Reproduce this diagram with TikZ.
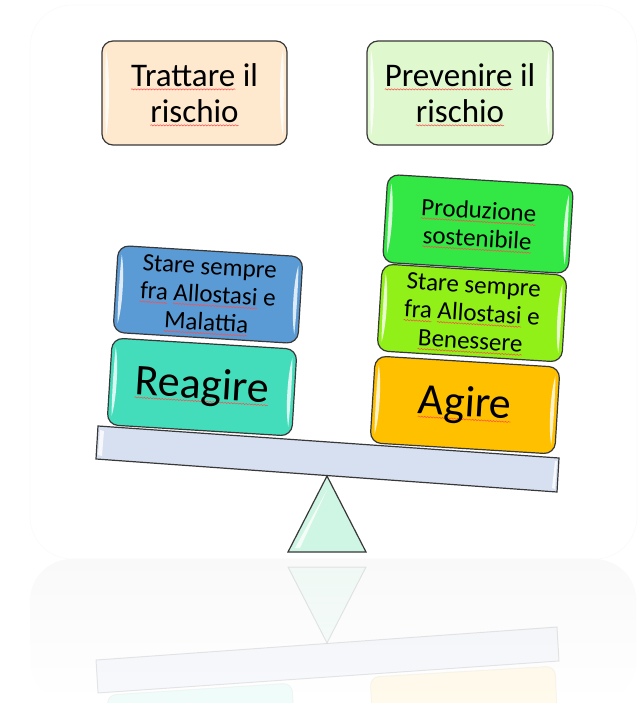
\documentclass[tikz,border=0pt]{standalone}
\usepackage{fontspec}
\setmainfont{Carlito}
\usetikzlibrary{decorations.pathmorphing,fadings}
\definecolor{peach}{HTML}{FEE8CE}
\definecolor{palegreen}{HTML}{E0F8CE}
\definecolor{vivid}{HTML}{33E845}
\definecolor{lime}{HTML}{90F018}
\definecolor{amber}{HTML}{FFC000}
\definecolor{steel}{HTML}{5B9BD5}
\definecolor{teal}{HTML}{44DDBB}
\definecolor{beamblue}{HTML}{D6E0F0}
\definecolor{mint}{HTML}{CFF5E5}
\definecolor{edge}{HTML}{383838}
\tikzset{
  gbox/.style={draw=edge,line width=1.2pt,rounded corners=11pt,inner sep=0pt,align=center,transform shape,text=black},
  gloss/.style={fill=white,fill opacity=.8,draw=none},
  panel/.style={draw=black!2,fill=white,rounded corners=42pt,line width=.6pt},
  squiggle/.style={sharp corners,draw=red!70!white,line width=.5pt,decorate,decoration={snake,amplitude=.6pt,segment length=3pt}},
}
\newsavebox\sqbox
\newlength\sqlen
\newcommand\sq[1]{\leavevmode\sbox\sqbox{#1}\setlength\sqlen{\wd\sqbox}\hbox to 0pt{\tikz[overlay]\draw[squiggle] (0pt,-3pt) -- (\sqlen,-3pt);\hss}\usebox\sqbox}
% name, x, y, w, h, angle, fill, fontsize, text
\newcommand\gb[9]{%
  \begin{scope}[shift={(#2,#3)},rotate=#6,x=1pt,y=1pt]
    \node[gbox,fill=#7,minimum width=#4pt,minimum height=#5pt,font=\fontsize{#8}{\numexpr#8*11/10\relax}\selectfont] (#1) at (0,0) {#9};
    \path[gloss] ({-#4/2+4},{#5/2-9}) .. controls ({-#4/2+8},{#5/2-25}) and ({-#4/2+8},{-#5/2+25}) .. ({-#4/2+4},{-#5/2+9}) .. controls ({-#4/2+3},{-#5/2+25}) and ({-#4/2+3},{#5/2-25}) .. cycle;
    \path[gloss] ({#4/2-4},{#5/2-9}) .. controls ({#4/2-8},{#5/2-25}) and ({#4/2-8},{-#5/2+25}) .. ({#4/2-4},{-#5/2+9}) .. controls ({#4/2-3},{-#5/2+25}) and ({#4/2-3},{#5/2-25}) .. cycle;
  \end{scope}}
\begin{document}
\begin{tikzpicture}[x=1pt,y=-1pt]
\useasboundingbox (0,0) rectangle (641,703);
% panels
\path[panel] (30,5) rectangle (637,559);
\fill[black!2.5,rounded corners=42pt,path fading=south] (30,559) rectangle (637,703);
% reflection
\begin{scope}
  \clip (0,0) rectangle (641,703);
  \begin{scope}[opacity=.08]
    \draw[edge!50,fill=amber,rounded corners=9pt,line width=1pt] (370,677) -- (555,666) -- (559,752) -- (375,762) -- cycle;
    \draw[edge!50,fill=teal,rounded corners=9pt,line width=1pt] (107,695) -- (292,683) -- (297,770) -- (112,781) -- cycle;
  \end{scope}
  \begin{scope}[opacity=.2]
    \draw[edge!60,fill=beamblue,line width=1pt] (96,660) -- (557,627) -- (559,661) -- (98,693) -- cycle;
    \draw[edge!60,fill=mint,line width=1pt] (288,567) -- (366,567) -- (327,643) -- cycle;
  \end{scope}
\end{scope}
% fulcrum and beam
\draw[edge,fill=mint,line width=1.2pt] (288,552) -- (366,552) -- (327,476) -- cycle;
\path[gloss] (295,548) -- (327,490) -- (300,548) -- cycle;
\draw[edge,fill=beamblue,line width=1.2pt] (98,426) -- (559,458) -- (557,492) -- (96,459) -- cycle;
\path[gloss] (100,430) -- (104,431) -- (102,456) -- (98,455) -- cycle;
\path[gloss] (555,461) -- (557,461) -- (555,489) -- (552,488) -- cycle;
% top boxes
\gb{treat}{194.5}{93}{185}{104}{0}{peach}{33}{\sq{Trattare} il\\\sq{rischio}}
\gb{prev}{460}{93}{186}{104}{0}{palegreen}{33}{\sq{Prevenire} il\\\sq{rischio}}
% left stack
\gb{react}{202}{387}{185}{87}{-3.5}{teal}{44}{\raisebox{-1pt}{\sq{Reagire}}}
\gb{stayl}{208}{294.5}{185}{87}{-3.5}{steel}{25}{Stare sempre\\\sq{fra} \sq{Allostasi} e\\\sq{Malattia}}
% right stack
\gb{act}{465}{405}{185}{87}{-3.5}{amber}{44}{\raisebox{-3pt}{\sq{Agire}}}
\gb{stayr}{472}{313}{185}{87}{-3.5}{lime}{25}{Stare sempre\\\sq{fra} \sq{Allostasi} e\\\sq{Benessere}}
\gb{prod}{478}{224}{186}{88}{-3.5}{vivid}{25}{\sq{Produzione}\\\sq{sostenibile}}
\end{tikzpicture}
\end{document}
